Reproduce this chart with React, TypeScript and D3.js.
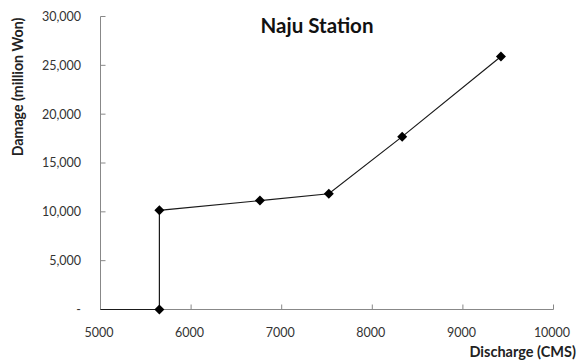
import React from "react";
import * as d3 from "d3";

const discharge = [5000, 5650, 5650, 6760, 7520, 8330, 9420];
const damage = [0, 0, 10150, 11150, 11850, 17700, 25900];
const hasMarker = [false, true, true, true, true, true, true];
const xTicks = [5000, 6000, 7000, 8000, 9000, 10000];
const yTicks = [0, 5000, 10000, 15000, 20000, 25000, 30000];

const W = 577;
const H = 362;
const FONT = "Lato, 'Open Sans', sans-serif";

export default function App() {
  const x = d3.scaleLinear().domain([5000, 10000]).range([100.5, 553.5]);
  const y = d3.scaleLinear().domain([0, 30000]).range([309.5, 16.5]);
  const pts = discharge.map((d, i) => ({ x: d, y: damage[i], m: hasMarker[i] }));
  const line = d3
    .line<{ x: number; y: number }>()
    .x((d) => x(d.x))
    .y((d) => y(d.y));
  const fmt = (v: number) => (v === 0 ? "-" : d3.format(",")(v));
  // square marker turned 45 degrees
  const diamond = d3.symbol(d3.symbolSquare, 50)();

  return (
    <svg
      width={W}
      height={H}
      style={{ position: "absolute", left: 0, top: 0, background: "#fff" }}
      fontFamily={FONT}
    >
      <rect width={W} height={H} fill="#fff" />
      {/* axes */}
      <line x1={x(5000)} x2={x(5000)} y1={y(0)} y2={y(30000)} stroke="#888" />
      <line x1={x(5000)} x2={x(10000)} y1={y(0)} y2={y(0)} stroke="#888" />
      {yTicks.map((t) => (
        <g key={"y" + t}>
          <line x1={x(5000)} x2={x(5000) + 5} y1={y(t)} y2={y(t)} stroke="#888" />
          <text
            x={81}
            y={y(t)}
            dy="0.35em"
            textAnchor="end"
            fontSize={12.5}
            fill="#333"
          >
            {fmt(t)}
          </text>
        </g>
      ))}
      {xTicks.map((t) => (
        <g key={"x" + t}>
          <line x1={x(t)} x2={x(t)} y1={y(0)} y2={y(0) - 5} stroke="#888" />
          <text
            x={x(t) - 1.5}
            y={337}
            textAnchor="middle"
            fontSize={12.5}
            fill="#333"
          >
            {t}
          </text>
        </g>
      ))}
      {/* series */}
      <path d={line(pts) || ""} fill="none" stroke="#1a1a1a" strokeWidth={1.2} />
      {pts
        .filter((p) => p.m)
        .map((p, i) => (
          <path
            key={i}
            d={diamond || ""}
            transform={`translate(${x(p.x)},${y(p.y)}) rotate(45)`}
            fill="#000"
          />
        ))}
      {/* titles */}
      <text
        x={317}
        y={33}
        textAnchor="middle"
        fontSize={20.5}
        fontWeight="bold"
        fill="#111"
      >
        Naju Station
      </text>
      <text
        transform={`translate(23,${87}) rotate(-90)`}
        textAnchor="middle"
        fontSize={14.2}
        fontWeight="bold"
        fill="#222"
      >
        Damage (million Won)
      </text>
      <text
        x={576}
        y={357}
        textAnchor="end"
        fontSize={14.5}
        fontWeight="bold"
        fill="#222"
      >
        Discharge (CMS)
      </text>
    </svg>
  );
}
